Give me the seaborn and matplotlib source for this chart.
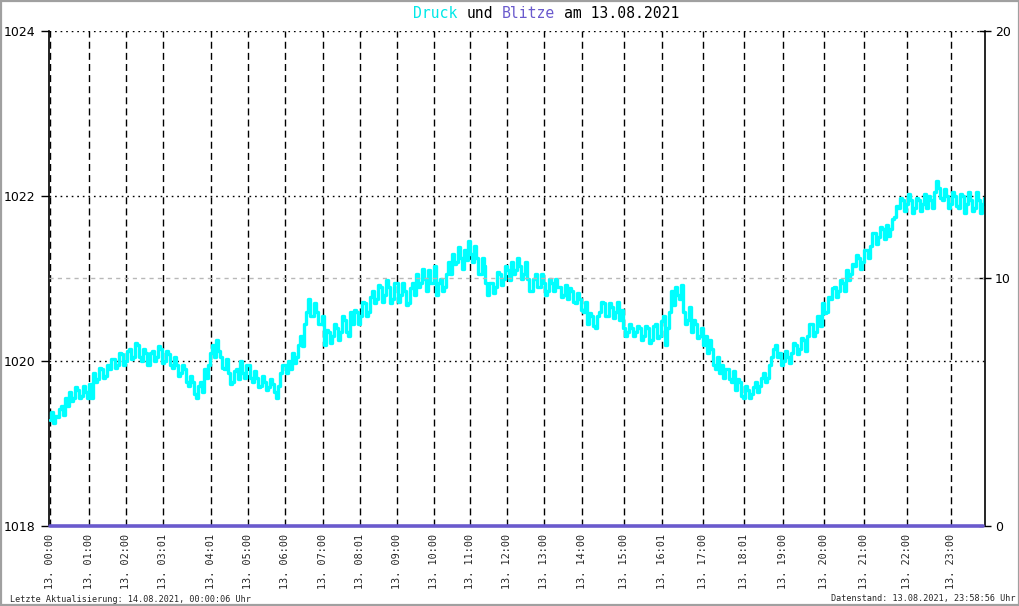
import matplotlib
matplotlib.use("Agg")
import matplotlib.pyplot as plt
import seaborn as sns
import pandas as pd
import numpy as np
from matplotlib.patches import Rectangle

# ---- data ----
# main reading per sample and the alternate (spike) reading within the same sample slot
druck = [
    1019.28, 1019.25, 1019.32, 1019.45, 1019.55, 1019.62, 1019.55, 1019.65, 1019.58, 1019.62,
    1019.72, 1019.85, 1019.78, 1019.90, 1019.82, 1019.90, 1020.02, 1019.95, 1020.08, 1020.00,
    1020.15, 1020.05, 1020.20, 1020.00, 1020.10, 1019.95, 1020.12, 1020.05, 1020.15, 1020.00,
    1020.08, 1019.92, 1019.95, 1019.85, 1019.90, 1019.70, 1019.75, 1019.55, 1019.75, 1019.90,
    1019.95, 1020.20, 1020.25, 1020.05, 1019.90, 1019.85, 1019.75, 1019.90, 1020.00, 1019.80,
    1019.95, 1019.75, 1019.80, 1019.70, 1019.75, 1019.68, 1019.72, 1019.55, 1019.85, 1019.95,
    1020.00, 1020.10, 1020.05, 1020.30, 1020.45, 1020.75, 1020.55, 1020.60, 1020.45, 1020.20,
    1020.35, 1020.30, 1020.40, 1020.35, 1020.50, 1020.30, 1020.45, 1020.60, 1020.55, 1020.70,
    1020.60, 1020.85, 1020.75, 1020.90, 1020.80, 1020.90, 1020.75, 1020.95, 1020.80, 1020.85,
    1020.70, 1020.95, 1021.05, 1020.95, 1021.00, 1021.10, 1020.95, 1020.80, 1021.00, 1020.90,
    1021.20, 1021.30, 1021.20, 1021.25, 1021.35, 1021.45, 1021.20, 1021.25, 1021.05, 1021.15,
    1020.80, 1020.95, 1020.90, 1021.05, 1021.00, 1021.10, 1021.20, 1021.10, 1021.15, 1021.05,
    1021.00, 1020.85, 1021.05, 1020.90, 1020.95, 1020.85, 1020.95, 1021.00, 1020.90, 1020.80,
    1020.75, 1020.85, 1020.70, 1020.75, 1020.60, 1020.45, 1020.55, 1020.40, 1020.60, 1020.70,
    1020.55, 1020.65, 1020.60, 1020.50, 1020.40, 1020.35, 1020.40, 1020.35, 1020.40, 1020.30,
    1020.40, 1020.25, 1020.45, 1020.30, 1020.55, 1020.40, 1020.85, 1020.90, 1020.75, 1020.60,
    1020.50, 1020.35, 1020.45, 1020.30, 1020.20, 1020.10, 1020.15, 1019.90, 1019.85, 1019.80,
    1019.90, 1019.75, 1019.65, 1019.75, 1019.55, 1019.65, 1019.60, 1019.75, 1019.70, 1019.85,
    1019.80, 1020.05, 1020.20, 1020.10, 1020.00, 1020.05, 1020.10, 1020.20, 1020.15, 1020.25,
    1020.30, 1020.45, 1020.35, 1020.55, 1020.70, 1020.60, 1020.75, 1020.90, 1020.85, 1020.95,
    1021.10, 1021.05, 1021.15, 1021.25, 1021.20, 1021.35, 1021.40, 1021.55, 1021.50, 1021.60,
    1021.65, 1021.60, 1021.75, 1021.85, 1021.95, 1021.90, 1021.95, 1021.85, 1021.95, 1021.90,
    1021.85, 1021.95, 1022.05, 1022.10, 1021.95, 1022.00, 1021.90, 1022.00, 1021.85, 1022.00,
    1021.90, 1021.95, 1021.85, 1021.95, 1021.90,
]
druck_alt = [
    1019.38, 1019.33, 1019.42, 1019.35, 1019.45, 1019.52, 1019.68, 1019.55, 1019.70, 1019.55,
    1019.55, 1019.75, 1019.92, 1019.80, 1019.95, 1020.02, 1019.92, 1020.10, 1019.95, 1020.12,
    1020.02, 1020.22, 1020.05, 1020.15, 1019.95, 1020.10, 1020.00, 1020.18, 1019.98, 1020.12,
    1019.95, 1020.05, 1019.82, 1019.95, 1019.75, 1019.82, 1019.60, 1019.70, 1019.62, 1019.80,
    1020.10, 1020.05, 1020.12, 1019.92, 1020.02, 1019.72, 1019.88, 1019.78, 1019.85, 1019.95,
    1019.80, 1019.88, 1019.68, 1019.82, 1019.65, 1019.78, 1019.62, 1019.70, 1019.95, 1019.85,
    1019.90, 1019.98, 1020.20, 1020.18, 1020.60, 1020.55, 1020.70, 1020.45, 1020.55, 1020.38,
    1020.22, 1020.45, 1020.25, 1020.55, 1020.35, 1020.60, 1020.62, 1020.45, 1020.72, 1020.55,
    1020.78, 1020.70, 1020.92, 1020.72, 1020.98, 1020.70, 1020.95, 1020.72, 1020.95, 1020.68,
    1020.88, 1020.80, 1020.90, 1021.12, 1020.85, 1020.95, 1021.15, 1020.95, 1020.85, 1021.05,
    1021.05, 1021.18, 1021.38, 1021.12, 1021.22, 1021.30, 1021.40, 1021.05, 1021.25, 1020.95,
    1020.95, 1020.82, 1021.08, 1020.92, 1021.15, 1020.98, 1021.05, 1021.25, 1021.00, 1021.20,
    1020.85, 1021.00, 1020.90, 1021.05, 1020.80, 1021.00, 1020.85, 1020.90, 1020.78, 1020.92,
    1020.88, 1020.72, 1020.82, 1020.62, 1020.72, 1020.58, 1020.42, 1020.55, 1020.72, 1020.55,
    1020.70, 1020.52, 1020.72, 1020.62, 1020.30, 1020.45, 1020.30, 1020.42, 1020.25, 1020.42,
    1020.22, 1020.42, 1020.28, 1020.48, 1020.20, 1020.60, 1020.68, 1020.80, 1020.92, 1020.45,
    1020.65, 1020.50, 1020.28, 1020.40, 1020.30, 1020.25, 1019.95, 1020.05, 1019.95, 1019.90,
    1019.78, 1019.88, 1019.78, 1019.58, 1019.70, 1019.55, 1019.68, 1019.62, 1019.80, 1019.75,
    1019.95, 1020.15, 1020.05, 1019.95, 1020.12, 1019.98, 1020.22, 1020.08, 1020.28, 1020.12,
    1020.45, 1020.30, 1020.55, 1020.42, 1020.58, 1020.78, 1020.88, 1020.78, 1020.98, 1020.85,
    1020.98, 1021.18, 1021.28, 1021.12, 1021.35, 1021.25, 1021.55, 1021.42, 1021.62, 1021.48,
    1021.52, 1021.72, 1021.88, 1021.98, 1021.82, 1022.02, 1021.80, 1021.98, 1021.82, 1022.02,
    1022.00, 1021.85, 1022.18, 1021.98, 1022.08, 1021.85, 1022.05, 1021.88, 1022.02, 1021.80,
    1022.05, 1021.82, 1022.05, 1021.80, 1021.98,
]

tick_labels = ["13. 00:00", "13. 01:00", "13. 02:00", "13. 03:01", "13. 04:01", "13. 05:00",
               "13. 06:00", "13. 07:00", "13. 08:01", "13. 09:00", "13. 10:00", "13. 11:00",
               "13. 12:00", "13. 13:00", "13. 14:00", "13. 15:00", "13. 16:01", "13. 17:00",
               "13. 18:01", "13. 19:00", "13. 20:00", "13. 21:00", "13. 22:00", "13. 23:00"]
tick_samples = [0, 9.75, 19, 28.5, 40.4, 49.75, 59.1, 68.5, 77.75, 87, 96.25, 105.4,
                114.75, 123.9, 133.5, 144, 153.5, 163.75, 174, 183.9, 194.1, 204.25, 214.9, 225.9]

left_ticks = [1018, 1020, 1022, 1024]
right_ticks = [0, 10, 20]

n = len(druck)
idx = np.concatenate([np.arange(n), np.arange(n) + 0.5])
vals = np.concatenate([druck, druck_alt])
df = pd.DataFrame({"idx": idx, "druck": vals}).sort_values("idx").reset_index(drop=True)
df_b = pd.DataFrame({"idx": np.arange(n), "blitze": [0] * n})

# ---- figure ----
sns.set_style("white")
plt.rcParams["font.family"] = ["DejaVu Sans"]
fig = plt.figure(figsize=(10.2, 6.06), dpi=100)
fig.patch.set_facecolor("white")
ax = fig.add_axes([49 / 1020, 1 - 526 / 606, (985 - 49) / 1020, (526 - 31) / 606])
ax2 = ax.twinx()

ax.set_xlim(-0.2, n - 0.5)
ax.set_ylim(1018, 1024)
ax2.set_ylim(0, 20)

# grid lines
for t in tick_samples:
    ax.axvline(t, color="black", lw=1, ls=(0, (5, 3)), zorder=1)
for v in left_ticks[1:]:
    ax.axhline(v, color="black", lw=1, ls=(0, (1.2, 2.8)), zorder=1)
ax2.axhline(10, color="#b8b8b8", lw=1, ls=(0, (3, 3)), zorder=1)

sns.lineplot(data=df, x="idx", y="druck", ax=ax, color="#00ffff", lw=2.4,
             drawstyle="steps-mid", zorder=3, sort=False)
sns.lineplot(data=df_b, x="idx", y="blitze", ax=ax2, color="#6a5acd", lw=2.6,
             zorder=4, clip_on=False)
ax.set_xlabel("")
ax.set_ylabel("")
ax2.set_ylabel("")

# spines
for a in (ax, ax2):
    a.spines["top"].set_visible(False)
    a.spines["bottom"].set_visible(False)
    a.set_facecolor("none")
ax.spines["left"].set_color("black")
ax.spines["left"].set_linewidth(1.2)
ax2.spines["right"].set_color("black")
ax2.spines["right"].set_linewidth(1.2)
ax2.spines["left"].set_visible(False)
ax.spines["right"].set_visible(False)

ax.set_yticks(left_ticks)
ax.set_yticklabels([str(v) for v in left_ticks], fontsize=9)
ax.tick_params(axis="y", direction="out", length=6, width=1, pad=4, colors="black")
ax2.set_yticks(right_ticks)
ax2.set_yticklabels([str(v) for v in right_ticks], fontsize=9)
ax2.tick_params(axis="y", direction="inout", length=8, width=1, pad=3, colors="black")

ax.set_xticks(tick_samples)
ax.set_xticklabels(tick_labels, rotation=90, fontsize=7.3, family="DejaVu Sans Mono")
ax.tick_params(axis="x", length=0, pad=6)

# title with coloured words
fs = 10.6
x0 = 413 / 1020
parts = [("Druck", "#00e8e8"), (" und ", "black"), ("Blitze", "#6a5acd"), (" am 13.08.2021", "black")]
cw = 8.9 / 1020
pos = x0
for txt, col in parts:
    lead = len(txt) - len(txt.lstrip(" "))
    fig.text(pos + lead * cw, 1 - 13 / 606, txt.strip(" "), ha="left", va="center", fontsize=fs,
             family="DejaVu Sans Mono", color=col)
    pos += len(txt) * cw

fig.text(10 / 1020, 1 - 599 / 606, "Letzte Aktualisierung: 14.08.2021, 00:00:06 Uhr",
         ha="left", va="center", fontsize=6.1, family="DejaVu Sans Mono")
fig.text(1016 / 1020, 1 - 599 / 606, "Datenstand: 13.08.2021, 23:58:56 Uhr",
         ha="right", va="center", fontsize=6.1, family="DejaVu Sans Mono")

fig.patches.append(Rectangle((0.0008, 0.0012), 0.9984, 0.9976, transform=fig.transFigure,
                             fill=False, edgecolor="#a0a0a0", lw=1.6))

fig.savefig("out.png", dpi=100)
